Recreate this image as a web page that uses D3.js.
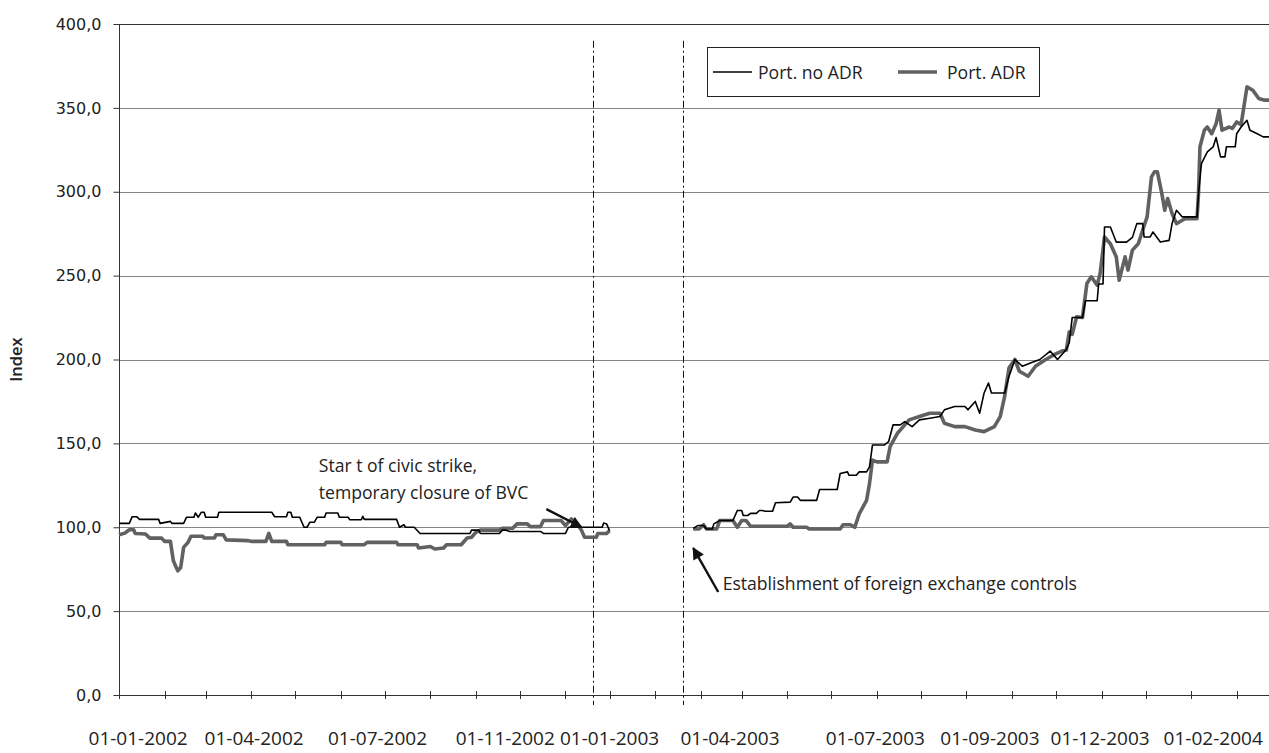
<!DOCTYPE html>
<html><head><meta charset="utf-8">
<script src="https://cdn.jsdelivr.net/npm/d3@7"></script>
<style>body{margin:0;background:#fff;} svg{display:block;}</style>
</head><body>
<svg id="chart" width="1269" height="753"></svg>
<script>
// ---------- DATA ----------
const yTickValues = [0, 50, 100, 150, 200, 250, 300, 350, 400];
const xLabels = ["01-01-2002","01-04-2002","01-07-2002","01-11-2002","01-01-2003","01-04-2003","01-07-2003","01-09-2003","01-12-2003","01-02-2004"];
// dates at which each label sits in the original picture
const xLabelAnchors = ["2002-01-14","2002-04-03","2002-06-26","2002-09-21","2002-12-01","2003-02-21","2003-05-31","2003-08-17","2003-10-31","2004-01-16"];
const seriesNames = ["Port. no ADR", "Port. ADR"];
const eventDates = ["2002-11-20", "2003-01-20"];

const noAdr = [
["2002-01-01",102.3],["2002-01-08",102.3],["2002-01-10",106.3],["2002-01-13",106.3],["2002-01-15",104.7],["2002-01-28",104.7],["2002-01-29",102.3],["2002-02-05",103.5],["2002-02-06",102.3],["2002-02-14",102.3],["2002-02-16",106],["2002-02-21",106],["2002-02-22",108.5],["2002-02-24",106],["2002-02-26",108.9],["2002-02-28",108.9],["2002-03-01",106],["2002-03-09",106],["2002-03-10",108.9],["2002-04-15",108.9],["2002-04-17",106.3],["2002-04-25",106.3],["2002-04-26",108.9],["2002-04-28",108.9],["2002-04-29",106],["2002-05-04",106],["2002-05-07",100],["2002-05-09",100],["2002-05-11",103],["2002-05-14",103],["2002-05-16",106],["2002-05-21",106],["2002-05-22",108.5],["2002-05-30",108.5],["2002-05-31",106],["2002-06-06",106],["2002-06-07",104.5],["2002-06-15",104.5],["2002-06-16",106.5],["2002-06-17",104.7],["2002-07-09",104.7],["2002-07-11",100],["2002-07-14",101.5],["2002-07-15",100],["2002-07-21",100],["2002-07-25",96.3],["2002-08-28",96.3],["2002-08-29",98.3],["2002-09-03",98.3],["2002-09-04",96.3],["2002-09-17",96.3],["2002-09-19",98.3],["2002-09-21",98.3],["2002-09-24",97.5],["2002-10-15",97.5],["2002-10-17",96.3],["2002-11-01",96.3],["2002-11-03",100],["2002-11-26",100],["2002-11-27",102.5],["2002-11-29",102],["2002-12-01",98],
["2002-12-20",null],
["2003-01-27",99.3],["2003-01-30",101],["2003-02-03",101],["2003-02-05",99],["2003-02-09",99],["2003-02-10",102],["2003-02-14",104],["2003-02-23",104],["2003-02-26",110],["2003-03-01",110],["2003-03-02",107],["2003-03-05",107],["2003-03-07",108.3],["2003-03-11",108.3],["2003-03-13",110],["2003-03-15",110],["2003-03-17",109.5],["2003-03-22",109.5],["2003-03-24",114.6],["2003-04-03",115],["2003-04-05",118],["2003-04-08",118],["2003-04-10",116],["2003-04-21",116],["2003-04-23",122.5],["2003-05-05",122.5],["2003-05-07",132],["2003-05-12",133],["2003-05-13",131],["2003-05-18",131],["2003-05-20",133],["2003-05-25",133],["2003-05-27",136],["2003-05-29",149],["2003-06-06",149],["2003-06-09",151],["2003-06-12",161],["2003-06-17",161],["2003-06-20",163],["2003-06-25",160],["2003-06-30",164],["2003-07-07",165],["2003-07-14",166],["2003-07-17",170],["2003-07-24",172],["2003-07-31",172],["2003-08-02",170],["2003-08-07",175],["2003-08-10",168],["2003-08-13",180],["2003-08-16",186],["2003-08-18",180],["2003-08-27",180],["2003-08-30",190],["2003-09-03",200],["2003-09-08",196],["2003-09-14",198],["2003-09-20",200],["2003-09-27",205],["2003-10-02",200],["2003-10-08",206],["2003-10-10",210],["2003-10-12",225],["2003-10-19",225],["2003-10-21",235],["2003-10-29",235],["2003-10-30",245],["2003-11-02",245],["2003-11-03",279],["2003-11-07",279],["2003-11-11",270],["2003-11-18",270],["2003-11-22",272.8],["2003-11-25",281],["2003-11-29",281],["2003-11-30",273],["2003-12-04",273],["2003-12-06",276],["2003-12-11",270],["2003-12-17",271],["2003-12-19",281],["2003-12-22",289],["2003-12-26",285],["2004-01-05",285],["2004-01-06",299],["2004-01-08",316.8],["2004-01-12",323.8],["2004-01-16",326.8],["2004-01-18",332.3],["2004-01-21",320.8],["2004-01-24",320.8],["2004-01-25",326.8],["2004-01-31",326.8],["2004-02-01",334.6],["2004-02-04",338.6],["2004-02-08",342.6],["2004-02-10",336.7],["2004-02-15",334.6],["2004-02-19",332.7],["2004-02-23",332.7]
];

const adr = [
["2002-01-01",95.5],["2002-01-05",96.5],["2002-01-08",98.5],["2002-01-11",98.5],["2002-01-12",96.3],["2002-01-19",96],["2002-01-22",93.5],["2002-01-30",93.5],["2002-02-01",91.6],["2002-02-05",91.6],["2002-02-07",80],["2002-02-10",74],["2002-02-12",76],["2002-02-14",88],["2002-02-17",91],["2002-02-19",94.6],["2002-02-27",94.6],["2002-02-28",93.6],["2002-03-07",93.6],["2002-03-08",95.5],["2002-03-13",95.5],["2002-03-15",92.5],["2002-03-30",92],["2002-04-01",91.6],["2002-04-11",91.6],["2002-04-13",96.3],["2002-04-15",91.6],["2002-04-25",91.6],["2002-04-26",89.6],["2002-05-21",89.6],["2002-05-22",91],["2002-06-01",91],["2002-06-02",89.6],["2002-06-17",89.6],["2002-06-19",91],["2002-07-09",91],["2002-07-10",89.6],["2002-07-23",89.6],["2002-07-24",87.6],["2002-08-01",88.5],["2002-08-04",87],["2002-08-10",87.6],["2002-08-12",89.6],["2002-08-22",89.6],["2002-08-26",93.6],["2002-08-29",94],["2002-09-01",97],["2002-09-04",98.3],["2002-09-17",98.3],["2002-09-19",99.4],["2002-09-26",99.4],["2002-09-29",102],["2002-10-06",102],["2002-10-08",100.4],["2002-10-15",100.4],["2002-10-17",104],["2002-10-29",104],["2002-11-01",101],["2002-11-05",105],["2002-11-09",102],["2002-11-12",98],["2002-11-14",94],["2002-11-22",94],["2002-11-23",96.3],["2002-11-29",96.3],["2002-12-01",98],
["2002-12-20",null],
["2003-01-27",99],["2003-01-31",99],["2003-02-03",101.5],["2003-02-05",99],["2003-02-12",99],["2003-02-14",104],["2003-02-23",104],["2003-02-26",100],["2003-03-01",104],["2003-03-04",104],["2003-03-07",100.6],["2003-04-01",100.6],["2003-04-03",102],["2003-04-05",100],["2003-04-14",100],["2003-04-16",99],["2003-05-07",99],["2003-05-09",101.5],["2003-05-14",101.5],["2003-05-17",100],["2003-05-20",108],["2003-05-25",116],["2003-05-27",126],["2003-05-29",140],["2003-06-01",139],["2003-06-08",139],["2003-06-10",148],["2003-06-15",156],["2003-06-19",160],["2003-06-23",164],["2003-06-30",166],["2003-07-07",168],["2003-07-14",168],["2003-07-17",162],["2003-07-24",160],["2003-07-31",160],["2003-08-07",158],["2003-08-13",157],["2003-08-20",160],["2003-08-24",166],["2003-08-27",178],["2003-08-30",195],["2003-09-03",200],["2003-09-06",193],["2003-09-12",190],["2003-09-17",196],["2003-09-24",200],["2003-09-30",203],["2003-10-05",205],["2003-10-08",205.6],["2003-10-10",216.5],["2003-10-12",215],["2003-10-15",225.4],["2003-10-19",225],["2003-10-22",245.3],["2003-10-25",249.3],["2003-10-29",244.3],["2003-10-31",251.3],["2003-11-03",273],["2003-11-07",269],["2003-11-11",261.2],["2003-11-13",247.3],["2003-11-17",261.2],["2003-11-19",253.3],["2003-11-22",265.2],["2003-11-26",269],["2003-11-29",277.1],["2003-12-02",285],["2003-12-05",308.9],["2003-12-07",311.9],["2003-12-09",311.9],["2003-12-12",299],["2003-12-14",289],["2003-12-16",296],["2003-12-19",287],["2003-12-22",281],["2003-12-26",283],["2003-12-28",284],["2004-01-05",284],["2004-01-06",299],["2004-01-07",326.8],["2004-01-10",336.7],["2004-01-12",338.6],["2004-01-15",334.6],["2004-01-18",340.6],["2004-01-20",348.6],["2004-01-22",336.7],["2004-01-27",338.6],["2004-01-29",337.7],["2004-02-01",341.6],["2004-02-04",340],["2004-02-08",362.5],["2004-02-12",360.5],["2004-02-16",355.6],["2004-02-20",354.6],["2004-02-23",354.6]
];

// annotations: text lines anchored at [date, value]; arrows from -> to
const noteStrike = {lines: ["Star t of civic strike,", "temporary closure of BVC"], at: ["2002-05-17", 137]};
const arrowStrike = {from: ["2002-10-19", 110.8], to: ["2002-11-12", 100]};
const noteControls = {lines: ["Establishment of foreign exchange controls"], at: ["2003-02-16", 66.7]};
const arrowControls = {from: ["2003-02-13", 61.4], to: ["2003-01-27", 87.6]};

// ---------- CHART ----------
const parse = d3.utcParse("%Y-%m-%d");
const svg = d3.select("#chart");
const W = 1269, H = 753;
const m = {left: 119, right: 0, top: 24, bottom: 58};

const x = d3.scaleUtc()
  .domain([parse("2002-01-01"), parse("2004-02-23")])
  .range([m.left, W - m.right]);
const y = d3.scaleLinear().domain([0, 400]).range([H - m.bottom, m.top]);

const fontTxt = "'Open Sans', sans-serif";
const fmt = v => d3.format(".1f")(v).replace(".", ",");

// gridlines
svg.append("g").selectAll("line").data(yTickValues.filter(v => v > 0)).join("line")
  .attr("x1", m.left).attr("x2", W - m.right)
  .attr("y1", d => Math.round(y(d)) + 0.5).attr("y2", d => Math.round(y(d)) + 0.5)
  .attr("stroke", d => d === 400 ? "#333" : "#858585").attr("stroke-width", 1);

// y axis
const yAxis = svg.append("g").attr("transform", `translate(${m.left + 0.5},0)`)
  .call(d3.axisLeft(y).tickValues(yTickValues).tickFormat(fmt).tickSize(6).tickPadding(12));
yAxis.select(".domain").remove();
yAxis.append("line").attr("x1", 0).attr("x2", 0).attr("y1", y(400)).attr("y2", y(0) + 4).attr("stroke", "#333");
yAxis.selectAll(".tick line").attr("stroke", "#333");
yAxis.selectAll(".tick text").attr("fill", "#222").style("font-family", "'DejaVu Sans', sans-serif").style("font-size", "16px");

// x axis line + month ticks
const monthTicks = d3.utcMonth.range(parse("2002-01-01"), parse("2004-02-02"));
const xg = svg.append("g");
xg.append("line").attr("x1", m.left).attr("x2", W - m.right)
  .attr("y1", Math.round(y(0)) + 0.5).attr("y2", Math.round(y(0)) + 0.5).attr("stroke", "#333");
xg.selectAll("line.tk").data(monthTicks).join("line").attr("class", "tk")
  .attr("x1", d => Math.round(x(d)) + 0.5).attr("x2", d => Math.round(x(d)) + 0.5)
  .attr("y1", y(0) - 4).attr("y2", y(0) + 4).attr("stroke", "#333");
xg.selectAll("text").data(xLabels).join("text")
  .attr("x", (d, i) => x(parse(xLabelAnchors[i])))
  .attr("y", 745)
  .attr("text-anchor", "middle")
  .style("font-family", fontTxt).style("font-size", "19px").attr("fill", "#222")
  .text(d => d);

// y title
svg.append("text").attr("transform", `translate(22,${(y(0) + y(400)) / 2}) rotate(-90)`)
  .attr("text-anchor", "middle").style("font-family", fontTxt).style("font-size", "16.5px")
  .style("font-weight", "600").attr("fill", "#222").text("Index");

// event dashed lines
svg.append("g").selectAll("line").data(eventDates).join("line")
  .attr("x1", d => Math.round(x(parse(d))) + 0.5).attr("x2", d => Math.round(x(parse(d))) + 0.5)
  .attr("y1", y(390)).attr("y2", y(-6))
  .attr("stroke", "#111").attr("stroke-width", 1).attr("stroke-dasharray", "7,3,2,3");

// series
const line = d3.line().defined(d => d[1] !== null)
  .x(d => x(parse(d[0]))).y(d => y(d[1])).curve(d3.curveLinear);
svg.append("path").datum(adr).attr("d", line).attr("fill", "none")
  .attr("stroke", "#616161").attr("stroke-width", 3.6).attr("stroke-linejoin", "round");
svg.append("path").datum(noAdr).attr("d", line).attr("fill", "none")
  .attr("stroke", "#000").attr("stroke-width", 1.6).attr("stroke-linejoin", "round");

// arrows
const defs = svg.append("defs");
defs.append("marker").attr("id", "ah").attr("viewBox", "0 0 10 10").attr("refX", 9).attr("refY", 5)
  .attr("markerWidth", 5.5).attr("markerHeight", 5).attr("markerUnits", "strokeWidth").attr("orient", "auto")
  .append("path").attr("d", "M0,0 L10,5 L0,10 Z").attr("fill", "#111");
[arrowStrike, arrowControls].forEach(a => {
  svg.append("line")
    .attr("x1", x(parse(a.from[0]))).attr("y1", y(a.from[1]))
    .attr("x2", x(parse(a.to[0]))).attr("y2", y(a.to[1]))
    .attr("stroke", "#111").attr("stroke-width", 2.4).attr("marker-end", "url(#ah)");
});

// notes
[noteStrike, noteControls].forEach(n => {
  const t = svg.append("text").style("font-family", fontTxt).style("font-size", "17.6px").attr("fill", "#222");
  n.lines.forEach((ln, i) => {
    t.append("tspan").attr("x", x(parse(n.at[0]))).attr("y", y(n.at[1]) + i * 27)
      .attr("dominant-baseline", "central").text(ln);
  });
});

// legend
const lg = svg.append("g");
lg.append("rect").attr("x", 707.5).attr("y", 47.5).attr("width", 332).attr("height", 49)
  .attr("fill", "#fff").attr("stroke", "#222").attr("stroke-width", 1);
const legendItems = [
  {name: seriesNames[0], color: "#000", w: 1.6, x0: 713, tx: 758},
  {name: seriesNames[1], color: "#616161", w: 3.6, x0: 898, tx: 947}
];
legendItems.forEach(it => {
  lg.append("line").attr("x1", it.x0).attr("x2", it.x0 + 39).attr("y1", 72).attr("y2", 72)
    .attr("stroke", it.color).attr("stroke-width", it.w);
  lg.append("text").attr("x", it.tx).attr("y", 72).attr("dominant-baseline", "central")
    .style("font-family", fontTxt).style("font-size", "17.6px").attr("fill", "#222").text(it.name);
});
</script>
</body></html>
